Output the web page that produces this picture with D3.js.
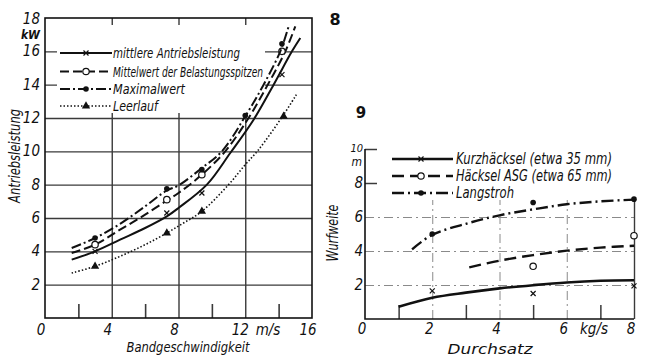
<!DOCTYPE html>
<html><head><meta charset="utf-8">
<script src="https://cdn.jsdelivr.net/npm/d3@7"></script>
<style>
body{margin:0;background:#fff;}
svg text{font-family:"Liberation Sans Narrow","DejaVu Sans Condensed","Liberation Sans",sans-serif;font-style:italic;fill:#111;}
</style></head><body>
<svg id="c" width="649" height="357"></svg>
<script>
// ---------- data: figure 8 (left) ----------
const xTicks8 = [0, 4, 8, 12, 16];
const yTicks8 = [2, 4, 6, 8, 10, 12, 14, 16, 18];
const gridY8 = [2, 4, 6, 8, 10, 12, 14, 16];
const gridX8 = [4, 8, 12];
const minorX8 = [2, 6, 10, 14];
const mittlereLine = [[1.6,3.5],[3,4.0],[4.5,4.7],[6,5.4],[7.3,6.1],[8,6.6],[9.7,8.0],[11.1,9.9],[12.5,11.9],[13.7,14.0],[14.8,16.0],[15.3,16.8]];
const mittlerePts  = [[3,4.0],[7.3,6.3],[9.4,7.5],[14.2,14.6]];
const mittelwertLine = [[1.6,3.9],[3,4.4],[4.5,5.3],[6,6.2],[7.3,7.05],[8,7.5],[9.4,8.6],[10.8,10.0],[12.2,12.0],[13.35,14.0],[14.4,16.0],[15.0,17.5]];
const mittelwertPts  = [[3,4.4],[7.3,7.1],[9.4,8.6],[14.2,16.0]];
const maximalLine = [[1.6,4.2],[3,4.8],[4.5,5.65],[6,6.7],[7.3,7.65],[8,7.95],[9.4,9.0],[10.6,10.0],[12,12.1],[13.1,14.0],[14.1,16.0],[14.6,17.5]];
const maximalPts  = [[3,4.8],[7.3,7.75],[9.4,8.9],[12,12.15],[14.2,16.45]];
const leerlaufLine = [[1.6,2.7],[3,3.1],[4.5,3.7],[6,4.4],[7.3,5.1],[8.3,5.7],[9.4,6.4],[11,8.0],[12,9.2],[12.8,10.1],[14.3,12.2],[15.06,13.4]];
const leerlaufPts  = [[3,3.1],[7.3,5.1],[9.4,6.4],[14.3,12.1]];
const legend8 = ["mittlere Antriebsleistung","Mittelwert der Belastungsspitzen","Maximalwert","Leerlauf"];

// ---------- data: figure 9 (right) ----------
const xTicks9 = [0, 2, 4, 6, 8];
const yTicks9 = [2, 4, 6, 8, 10];
const gridY9 = [2, 4, 6];
const gridX9 = [2, 4, 6];
const minorX9 = [1, 3, 5, 7];
const kurzLine = [[1,0.72],[2,1.25],[3,1.55],[4,1.8],[5,1.99],[6,2.15],[7,2.25],[8,2.28]];
const kurzPts  = [[2,1.65],[5,1.5],[8,1.95]];
const asgLine  = [[3.1,3.04],[4,3.43],[5,3.76],[6,4.02],[7,4.2],[8,4.31]];
const asgPts   = [[5,3.1],[8,4.9]];
const langLine = [[1.4,4.1],[2,4.95],[3,5.6],[4,6.1],[5,6.45],[6,6.75],[7,6.92],[8,7.02]];
const langPts  = [[2,5.0],[5,6.85],[8,7.05]];
const legend9 = ["Kurzhäcksel (etwa 35 mm)","Häcksel ASG (etwa 65 mm)","Langstroh"];

const svg = d3.select("#c");
const ink = "#111";

function marker(g, type, x, y){
  if(type==="x"){
    g.append("path").attr("d",`M${x-2.5},${y-2.5}L${x+2.5},${y+2.5}M${x-2.5},${y+2.5}L${x+2.5},${y-2.5}`)
     .attr("stroke",ink).attr("stroke-width",1.2);
  } else if(type==="o"){
    g.append("circle").attr("cx",x).attr("cy",y).attr("r",3.2).attr("fill","#fff").attr("stroke",ink).attr("stroke-width",1.2);
  } else if(type==="dot"){
    g.append("circle").attr("cx",x).attr("cy",y).attr("r",2.8).attr("fill",ink);
  } else if(type==="tri"){
    g.append("path").attr("d",d3.symbol(d3.symbolTriangle,30)()).attr("transform",`translate(${x},${y})`).attr("fill",ink);
  }
}
function gridAxis(g, axis, tf, color, width, dash){
  const a = g.append("g").attr("transform",tf).call(axis);
  a.select(".domain").remove();
  a.selectAll("text").remove();
  a.selectAll("line").attr("stroke",color).attr("stroke-width",width).attr("stroke-dasharray",dash||null);
  return a;
}

// ================= Figure 8 =================
{
  const x = d3.scaleLinear([0,16],[45,312]);
  const y = d3.scaleLinear([0,18],[318,18]);
  const g = svg.append("g").attr("class","fig8");
  gridAxis(g, d3.axisLeft(y).tickValues(gridY8).tickSize(-(x(16)-x(0))), `translate(${x(0)},0)`, "#3a3a3a", 1.4);
  gridAxis(g, d3.axisBottom(x).tickValues(gridX8).tickSize(-(y(0)-y(18))), `translate(0,${y(0)})`, "#3a3a3a", 1.4);
  gridAxis(g, d3.axisBottom(x).tickValues(minorX8).tickSize(-14), `translate(0,${y(0)})`, "#3a3a3a", 1.6);
  g.append("rect").attr("x",57).attr("y",25).attr("width",208).attr("height",88).attr("fill","#fff");
  g.append("rect").attr("x",x(0)).attr("y",y(18)).attr("width",x(16)-x(0)).attr("height",y(0)-y(18))
    .attr("fill","none").attr("stroke",ink).attr("stroke-width",1.6);

  const line = d3.line().x(d=>x(d[0])).y(d=>y(d[1])).curve(d3.curveCatmullRom.alpha(0.5));
  const series = [
    {l:mittlereLine,p:mittlerePts,m:"x",dash:null,w:2},
    {l:mittelwertLine,p:mittelwertPts,m:"o",dash:"9,4",w:2},
    {l:maximalLine,p:maximalPts,m:"dot",dash:"10,3,2,3",w:2},
    {l:leerlaufLine,p:leerlaufPts,m:"tri",dash:"1.5,2",w:1.6}
  ];
  series.forEach(s=>{
    g.append("path").attr("d",line(s.l)).attr("fill","none").attr("stroke",ink).attr("stroke-width",s.w).attr("stroke-dasharray",s.dash);
    s.p.forEach(d=>marker(g,s.m,x(d[0]),y(d[1])));
  });
  const ly = [53,71.5,89,106];
  const lw = [127,150,72,45];
  series.forEach((s,i)=>{
    g.append("line").attr("x1",60).attr("x2",112).attr("y1",ly[i]).attr("y2",ly[i])
      .attr("stroke",ink).attr("stroke-width",s.w).attr("stroke-dasharray",s.dash);
    marker(g,s.m,86,ly[i]);
    g.append("text").attr("x",113).attr("y",ly[i]+5).attr("font-size",14)
      .attr("textLength",lw[i]).attr("lengthAdjust","spacingAndGlyphs").text(legend8[i]);
  });
  yTicks8.forEach(d=>g.append("text").attr("x",40).attr("y",y(d)+(d===18?6:5)).attr("text-anchor","end").attr("font-size",15).text(d));
  g.append("text").attr("x",40).attr("y",39).attr("text-anchor","end").attr("font-size",12).attr("font-weight","bold").text("kW");
  xTicks8.forEach(d=>g.append("text").attr("x",x(d)-(d===12?5:4)).attr("y",335).attr("text-anchor","middle").attr("font-size",15).text(d));
  g.append("text").attr("x",268).attr("y",335).attr("text-anchor","middle").attr("font-size",15).text("m/s");
  g.append("text").attr("x",188).attr("y",352).attr("text-anchor","middle").attr("font-size",14)
    .attr("textLength",123).attr("lengthAdjust","spacingAndGlyphs").text("Bandgeschwindigkeit");
  g.append("text").attr("transform","translate(20,156) rotate(-90)").attr("text-anchor","middle").attr("font-size",15)
    .attr("textLength",94).attr("lengthAdjust","spacingAndGlyphs").text("Antriebsleistung");
  svg.append("text").attr("x",335).attr("y",25).attr("text-anchor","middle").attr("font-size",16)
    .attr("font-weight","bold").style("font-style","normal").style("font-family","DejaVu Sans").text("8");
}

// ================= Figure 9 =================
{
  const x = d3.scaleLinear([0,8],[365,634]);
  const y = d3.scaleLinear([0,10],[319,149]);
  const g = svg.append("g").attr("class","fig9");
  const grid = "#8a8a8a";
  gridAxis(g, d3.axisLeft(y).tickValues(gridY9).tickSize(-(x(8)-x(0))), `translate(${x(0)},0)`, grid, 1, "9,4,2,4");
  gridAxis(g, d3.axisBottom(x).tickValues(gridX9).tickSize(-(y(0)-y(7))), `translate(0,${y(0)})`, grid, 1, "9,4,2,4");
  gridAxis(g, d3.axisBottom(x).tickValues([8]).tickSize(-(y(0)-y(7))), `translate(0,${y(0)})`, "#3a3a3a", 1.4);
  gridAxis(g, d3.axisBottom(x).tickValues(minorX9).tickSize(-14), `translate(0,${y(0)})`, "#3a3a3a", 1.5);
  gridAxis(g, d3.axisLeft(y).tickValues([8,10]).tickSize(-12), `translate(${x(0)},0)`, "#3a3a3a", 1.5);
  g.append("path").attr("d",`M${x(0)},${y(10)}V${y(0)}H${x(8)}`).attr("fill","none").attr("stroke",ink).attr("stroke-width",1.6);

  const line = d3.line().x(d=>x(d[0])).y(d=>y(d[1])).curve(d3.curveCatmullRom.alpha(0.5));
  const series = [
    {l:kurzLine,p:kurzPts,m:"x",dash:null,w:2.6},
    {l:asgLine,p:asgPts,m:"o",dash:"12,6",w:2.4},
    {l:langLine,p:langPts,m:"dot",dash:"12,4,2,4",w:2.4}
  ];
  series.forEach(s=>{
    g.append("path").attr("d",line(s.l)).attr("fill","none").attr("stroke",ink).attr("stroke-width",s.w).attr("stroke-dasharray",s.dash);
    s.p.forEach(d=>marker(g,s.m,x(d[0]),y(d[1])));
  });
  const ly = [159,176,193];
  const lw = [156,156,58];
  series.forEach((s,i)=>{
    g.append("line").attr("x1",392).attr("x2",453).attr("y1",ly[i]).attr("y2",ly[i])
      .attr("stroke",ink).attr("stroke-width",s.w).attr("stroke-dasharray",s.dash);
    marker(g,s.m,421,ly[i]);
    g.append("text").attr("x",456).attr("y",ly[i]+5).attr("font-size",15)
      .attr("textLength",lw[i]).attr("lengthAdjust","spacingAndGlyphs").text(legend9[i]);
  });
  yTicks9.forEach(d=>g.append("text").attr("x",363).attr("y",d===10?152:y(d)+5).attr("text-anchor","end")
    .attr("font-size",d===10?11:15).text(d));
  g.append("text").attr("x",362).attr("y",166).attr("text-anchor","end").attr("font-size",12).text("m");
  xTicks9.forEach(d=>g.append("text").attr("x",x(d)-3).attr("y",334).attr("text-anchor","middle").attr("font-size",15).text(d));
  g.append("text").attr("x",594).attr("y",334).attr("text-anchor","middle").attr("font-size",15).text("kg/s");
  g.append("text").attr("x",490).attr("y",354).attr("text-anchor","middle").attr("font-size",14)
    .attr("textLength",85).attr("lengthAdjust","spacingAndGlyphs").text("Durchsatz");
  g.append("text").attr("transform","translate(338,233) rotate(-90)").attr("text-anchor","middle").attr("font-size",15)
    .attr("textLength",57).attr("lengthAdjust","spacingAndGlyphs").text("Wurfweite");
  svg.append("text").attr("x",361).attr("y",118).attr("text-anchor","middle").attr("font-size",15)
    .attr("font-weight","bold").style("font-style","normal").style("font-family","DejaVu Sans").text("9");
}
</script>
</body></html>
